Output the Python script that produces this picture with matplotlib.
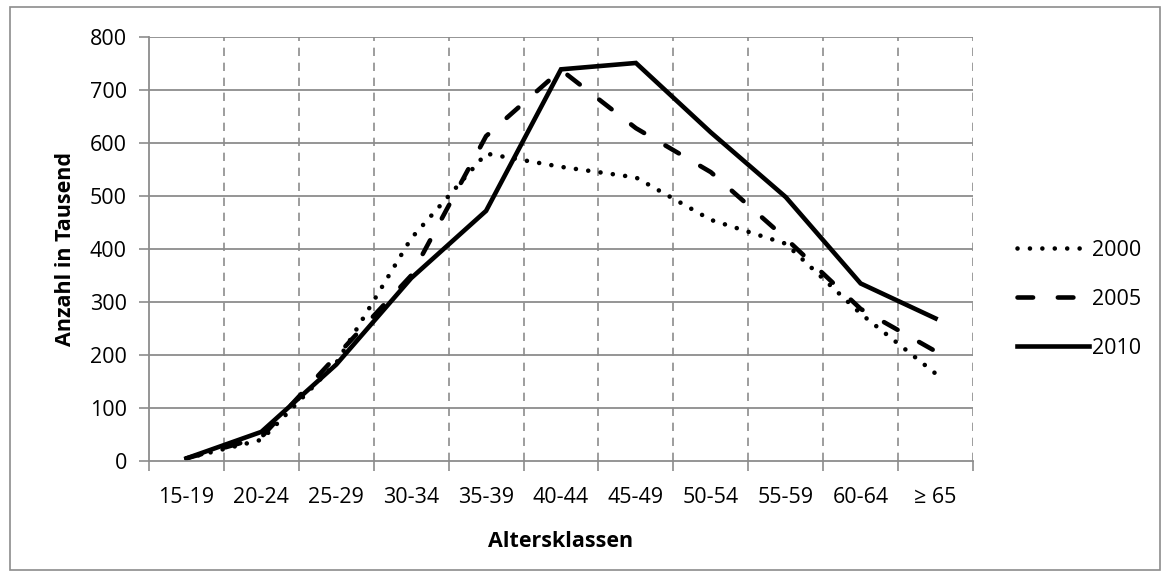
import matplotlib.pyplot as plt
import numpy as np
from matplotlib.patches import Rectangle

# Altersklassen und Anzahl (in Tausend)
categories = ['15-19', '20-24', '25-29', '30-34', '35-39', '40-44',
              '45-49', '50-54', '55-59', '60-64', '≥ 65']
years = ['2000', '2005', '2010']
values_2000 = [5, 40, 185, 420, 580, 555, 535, 455, 410, 278, 165]
values_2005 = [5, 45, 198, 350, 613, 738, 628, 545, 420, 287, 207]
values_2010 = [5, 55, 182, 345, 472, 739, 751, 620, 498, 335, 269]
y_ticks = [0, 100, 200, 300, 400, 500, 600, 700, 800]

plt.rcParams['font.family'] = ['Open Sans', 'DejaVu Sans']
grid_color = '#8c8c8c'
fs = 15.5

fig = plt.figure(figsize=(11.67, 5.79), dpi=100)
ax = fig.add_axes([149 / 1167, 118 / 579, 824 / 1167, 424 / 579])

x = np.arange(len(categories)) + 0.5
lw = 3.3
ax.plot(x, values_2000, color='black', lw=lw, linestyle=(0, (0.01, 2.7)),
        dash_capstyle='round', solid_joinstyle='round', label=years[0])
ax.plot(x, values_2005, color='black', lw=lw, linestyle=(0, (3.4, 5.4)),
        dash_capstyle='round', solid_joinstyle='round', label=years[1])
ax.plot(x, values_2010, color='black', lw=lw, linestyle='-',
        solid_joinstyle='miter', label=years[2])

ax.set_xlim(0, len(categories))
ax.set_ylim(0, 800)
ax.set_yticks(y_ticks)
ax.set_xticks(np.arange(len(categories) + 1))
ax.set_xticklabels([])
ax.set_xticks(x, minor=True)
ax.set_xticklabels(categories, minor=True, fontsize=fs)
ax.tick_params(axis='x', which='minor', length=0, pad=19)
ax.tick_params(axis='x', which='major', length=7, width=1.2, color=grid_color, direction='out')
ax.tick_params(axis='y', length=7, width=1.2, color=grid_color, direction='out',
               labelsize=fs, pad=9)

# Gitterlinien: horizontal durchgezogen, vertikal gestrichelt
for v in y_ticks[1:]:
    ax.axhline(v, color=grid_color, lw=1.3, zorder=0)
for i in range(1, len(categories) + 1):
    ax.axvline(i, color=grid_color, lw=1.2, linestyle=(0, (5, 4)), zorder=0)

for side in ['top', 'right']:
    ax.spines[side].set_visible(False)
for side in ['left', 'bottom']:
    ax.spines[side].set_color(grid_color)
    ax.spines[side].set_linewidth(1.3)

ax.set_xlabel('Altersklassen', fontsize=fs, fontweight='bold', labelpad=16)
ax.set_ylabel('Anzahl in Tausend', fontsize=fs, fontweight='bold', labelpad=10)

ax.legend(loc='center left', bbox_to_anchor=(1.03, 0.382), frameon=False,
          fontsize=fs, handlelength=3.35, handletextpad=0.15, labelspacing=1.3)

# Rahmen um das gesamte Diagramm
fig.patches.append(Rectangle((10 / 1167, 9 / 579), 1150 / 1167, 563 / 579,
                             transform=fig.transFigure, fill=False,
                             edgecolor=grid_color, lw=1.2))

fig.savefig('out.png', dpi=100)
